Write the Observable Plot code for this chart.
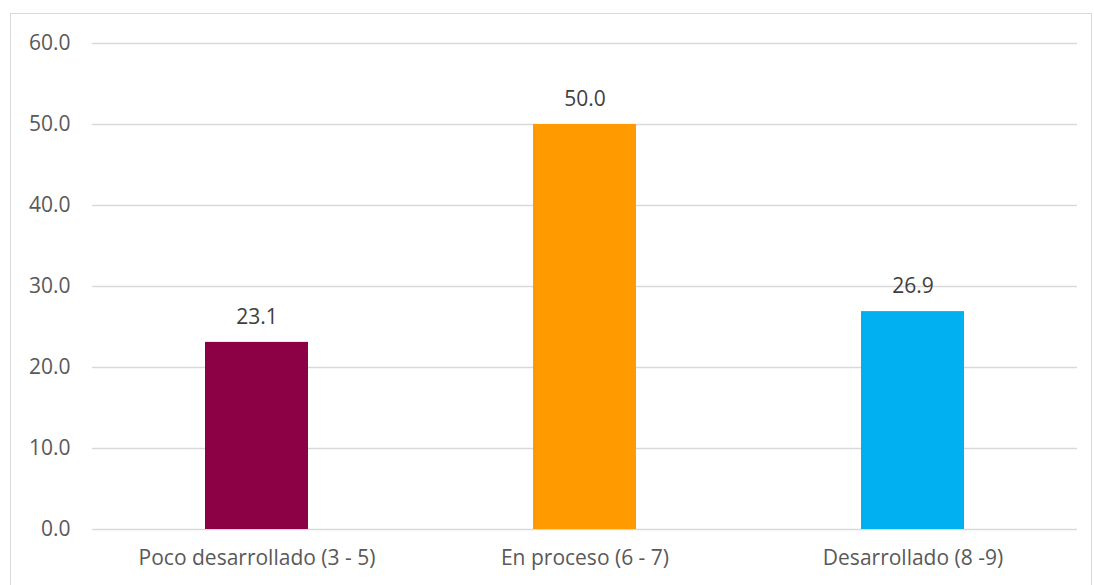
<!DOCTYPE html>
<html>
<head>
<meta charset="utf-8">
<script src="https://cdn.jsdelivr.net/npm/d3@7"></script>
<script src="https://cdn.jsdelivr.net/npm/@observablehq/plot@0.6"></script>
<style>
  html, body { margin: 0; padding: 0; background: #fff; overflow: hidden; }
  #wrap { position: relative; width: 1094px; height: 585px; }
  #border { position: absolute; left: 10px; top: 13px; width: 1082px; height: 600px; border: 1px solid #d9d9d9; box-sizing: border-box; }
  #chart { position: absolute; left: 0; top: 0; }
</style>
</head>
<body>
<div id="wrap"><div id="border"></div><div id="chart"></div></div>
<script>
const categories = ["Poco desarrollado (3 - 5)", "En proceso (6 - 7)", "Desarrollado (8 -9)"];
const values = [23.1, 50.0, 26.9];
const colors = ["#8C0046", "#FF9A00", "#00B0F0"];
const yTicks = [0, 10, 20, 30, 40, 50, 60];

const data = categories.map((c, i) => ({category: c, value: values[i], color: colors[i]}));
const font = "'Open Sans', sans-serif";

const chart = Plot.plot({
  width: 1094,
  height: 585,
  marginLeft: 92,
  marginRight: 17,
  marginTop: 43,
  marginBottom: 56,
  style: {fontFamily: font, fontSize: "21px", color: "#595959", background: "transparent"},
  x: {domain: categories, paddingInner: 0.686, paddingOuter: 0.343, label: null},
  y: {domain: [0, 60], label: null},
  marks: [
    Plot.ruleY(yTicks, {stroke: "#d9d9d9", strokeWidth: 1.4}),
    Plot.barY(data, {x: "category", y: "value", fill: "color"}),
    Plot.text(data, {x: "category", y: "value", text: d => d.value.toFixed(1), dy: -25, fill: "#404040", fontSize: 21}),
    Plot.axisY({ticks: yTicks, tickFormat: d => d.toFixed(1), tickSize: 0, tickPadding: 22, fill: "#595959", fontSize: 21, label: null}),
    Plot.axisX({tickSize: 0, tickPadding: 21, fill: "#595959", fontSize: 21, label: null})
  ]
});
document.getElementById("chart").appendChild(chart);
</script>
</body>
</html>
